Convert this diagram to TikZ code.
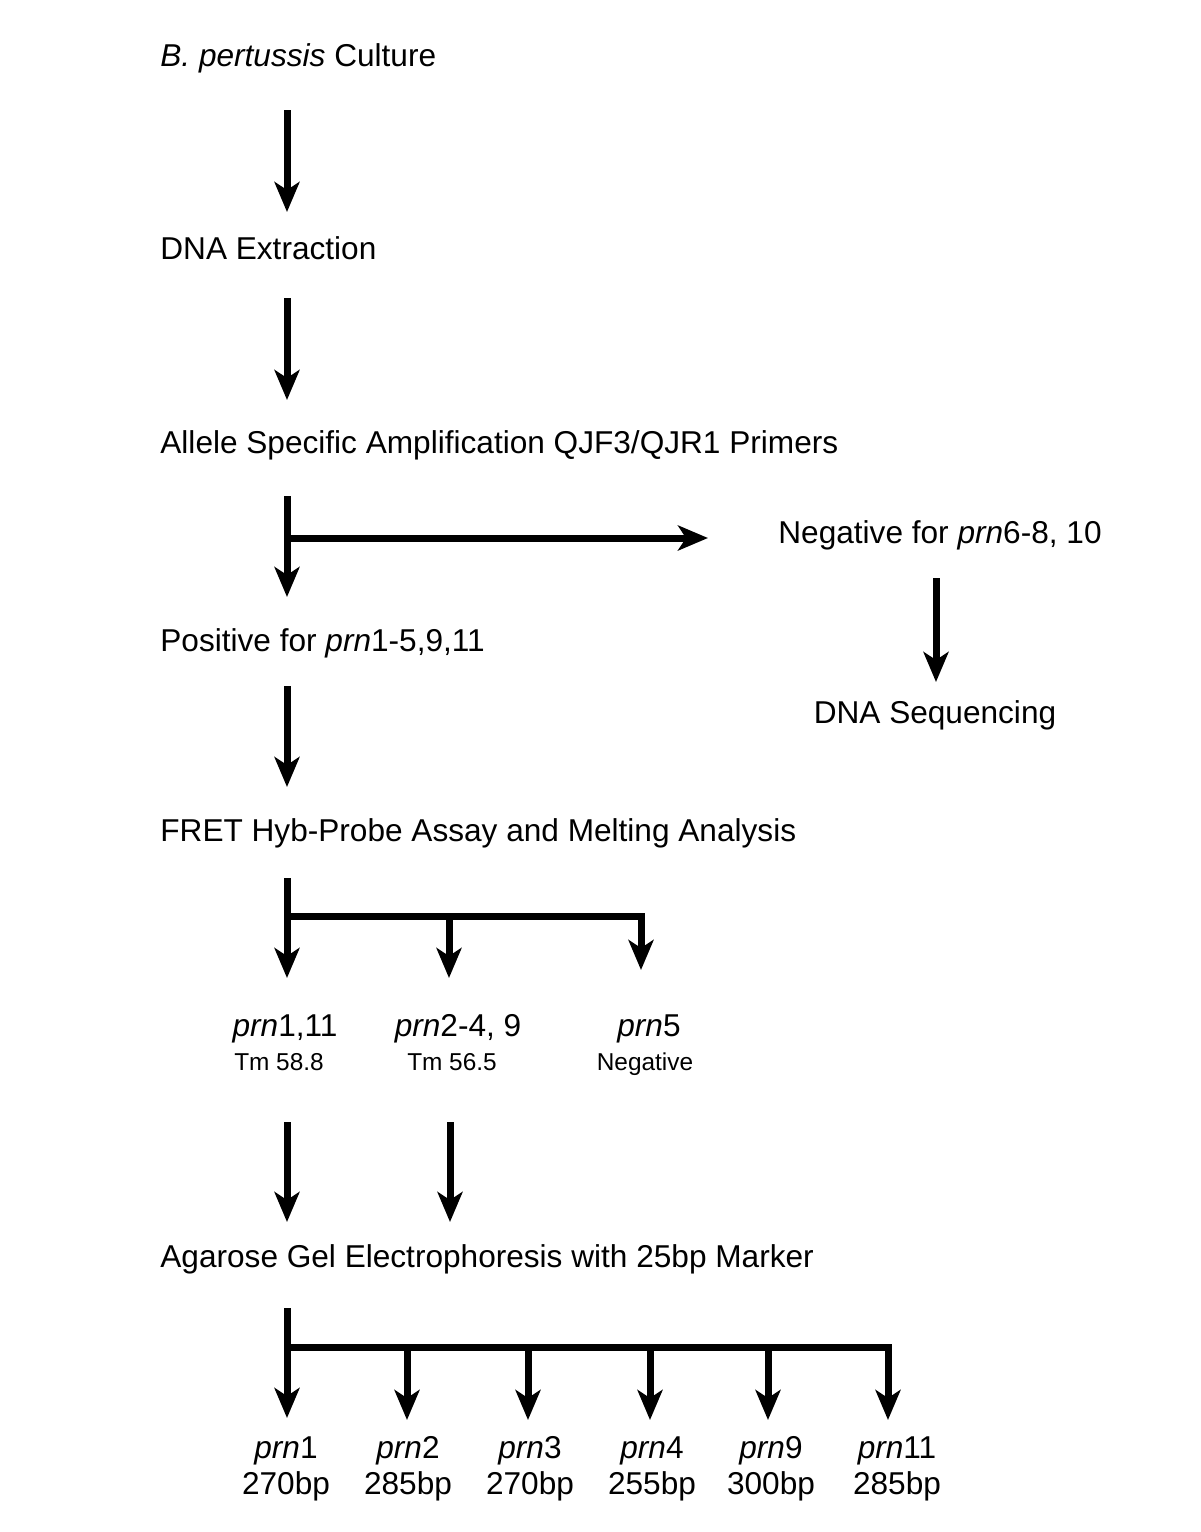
\documentclass[tikz,border=0pt]{standalone}
\usepackage{fontspec}
\setmainfont{Liberation Sans}
\usetikzlibrary{arrows.meta}

\begin{document}
\begin{tikzpicture}[x=0.5pt, y=-0.5pt,
    txt/.style = {inner sep=0pt, font=\fontsize{15.8}{18}\selectfont},
    small/.style = {inner sep=0pt, font=\fontsize{12.2}{14}\selectfont},
    flow/.style = {line width=3.5pt, -{Stealth[length=15pt, width=12.5pt, inset=4pt]}}]
    \useasboundingbox (0,0) rectangle (1200,1532);

    % main column
    \node[txt, anchor=base west] (culture) at (160,66) {\textit{B. pertussis} Culture};
    \node[txt, anchor=base west] (dna) at (160,259) {DNA Extraction};
    \node[txt, anchor=base west] (asa) at (160,453) {Allele Specific Amplification QJF3/QJR1 Primers};
    \node[txt, anchor=base west] (pos) at (160,651) {Positive for \textit{prn}1-5,9,11};
    \node[txt, anchor=base west] (fret) at (160,841) {FRET Hyb-Probe Assay and Melting Analysis};
    \node[txt, anchor=base west] (gel) at (160,1267) {Agarose Gel Electrophoresis with 25bp Marker};

    % side branch
    \node[txt, anchor=base west] (neg) at (778,543) {Negative for \textit{prn}6-8, 10};
    \node[txt, anchor=base] (seq) at (935,723) {DNA Sequencing};

    % melting results
    \node[txt, anchor=base] (m1) at (285,1036) {\textit{prn}1,11};
    \node[small, anchor=base] (t1) at (279,1070) {Tm 58.8};
    \node[txt, anchor=base] (m2) at (458,1036) {\textit{prn}2-4, 9};
    \node[small, anchor=base] (t2) at (452,1070) {Tm 56.5};
    \node[txt, anchor=base] (m3) at (649,1036) {\textit{prn}5};
    \node[small, anchor=base] (t3) at (645,1070) {Negative};

    % gel results
    \node[txt, anchor=base, align=center] (g1) at (286,1494) {\textit{prn}1\\270bp};
    \node[txt, anchor=base, align=center] (g2) at (408,1494) {\textit{prn}2\\285bp};
    \node[txt, anchor=base, align=center] (g3) at (530,1494) {\textit{prn}3\\270bp};
    \node[txt, anchor=base, align=center] (g4) at (652,1494) {\textit{prn}4\\255bp};
    \node[txt, anchor=base, align=center] (g9) at (771,1494) {\textit{prn}9\\300bp};
    \node[txt, anchor=base, align=center] (g11) at (897,1494) {\textit{prn}11\\285bp};

    % arrow ends
    \coordinate (a1) at (287,110);  \coordinate (b1) at (287,212);
    \coordinate (a2) at (287,298);  \coordinate (b2) at (287,400);
    \coordinate (a3) at (287,496);  \coordinate (b3) at (287,597);
    \coordinate (h3) at (287,538);  \coordinate (e3) at (708,538);
    \coordinate (a4) at (936,578);  \coordinate (b4) at (936,682);
    \coordinate (a5) at (287,686);  \coordinate (b5) at (287,787);
    \coordinate (a6) at (287,878);  \coordinate (b6) at (287,978);
    \coordinate (h6) at (287,916);  \coordinate (c6) at (449,916);
    \coordinate (d6) at (449,978);  \coordinate (e6) at (641,970);
    \coordinate (a7) at (287,1122); \coordinate (b7) at (287,1222);
    \coordinate (a8) at (450,1122); \coordinate (b8) at (450,1222);
    \coordinate (a9) at (287,1308); \coordinate (b9) at (287,1418);
    \coordinate (h9) at (287,1347); \coordinate (e9) at (888,1420);

    \draw[flow] (a1) -- (b1);
    \draw[flow] (a2) -- (b2);
    \draw[flow] (a3) -- (b3);
    \draw[flow] (h3) -- (e3);
    \draw[flow] (a4) -- (b4);
    \draw[flow] (a5) -- (b5);
    \draw[flow] (a6) -- (b6);
    \draw[flow] (h6) -| (e6);
    \draw[flow] (c6) -- (d6);
    \draw[flow] (a7) -- (b7);
    \draw[flow] (a8) -- (b8);
    \draw[flow] (a9) -- (b9);
    \draw[flow] (h9) -| (e9);
    \foreach \x in {407,528,650,768}
        \draw[flow] (\x,1347) -- (\x,1420);
\end{tikzpicture}
\end{document}
